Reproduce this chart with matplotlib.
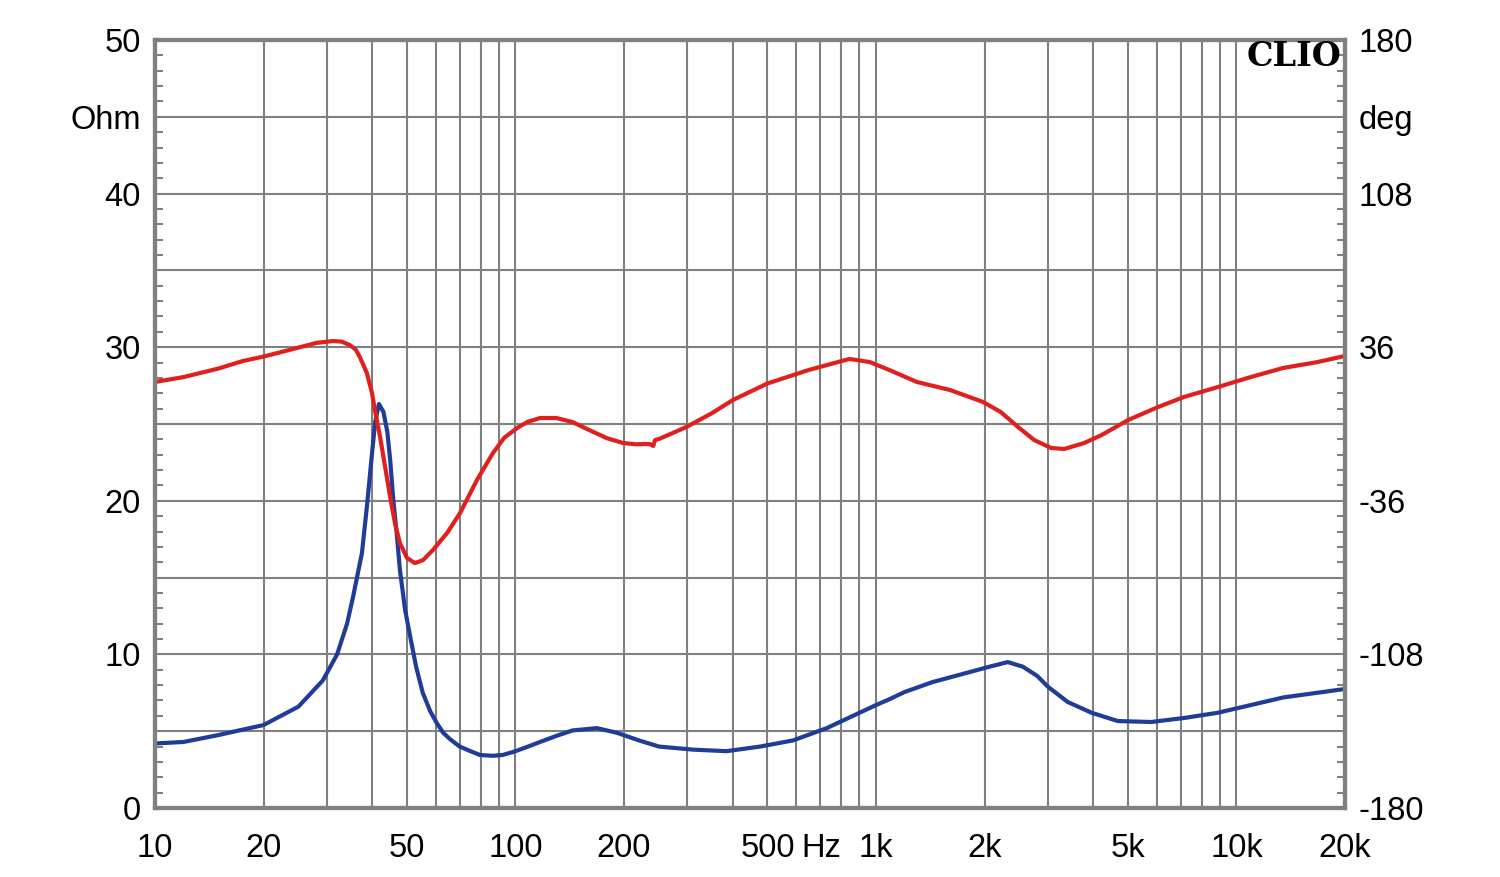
import matplotlib.pyplot as plt
import numpy as np
from matplotlib.ticker import FixedLocator, FixedFormatter, MultipleLocator

# impedance magnitude (left axis, Ohm)
imp_hz = [10, 12, 15, 17.5, 20, 25, 29.2, 32, 34.1, 35.4, 37.5, 38.7, 40, 40.8,
          41.8, 43.0, 44.1, 44.9, 45.8, 46.9, 47.8, 49.4, 51, 53, 55.3, 58,
          60.6, 63, 65.7, 70, 75, 79.7, 86.6, 92, 98.6, 107, 117, 130, 144, 168,
          191, 220, 250, 311, 385, 477, 589, 730, 900, 1000, 1094, 1200, 1436,
          1787, 2065, 2320, 2555, 2800, 2997, 3404, 3964, 4687, 5800, 7158,
          8870, 10950, 13500, 16740, 20000]
imp_ohm = [4.2, 4.3, 4.75, 5.1, 5.4, 6.6, 8.3, 10.0, 12.0, 13.7, 16.6, 19.6, 23.1, 25.1,
           26.3, 25.8, 24.5, 22.7, 20.1, 17.7, 15.5, 12.9, 11.2, 9.2, 7.5, 6.3,
           5.5, 4.9, 4.5, 4.0, 3.7, 3.45, 3.4, 3.45, 3.65, 3.95, 4.3, 4.7, 5.05, 5.2,
           4.9, 4.4, 4.0, 3.8, 3.7, 4.0, 4.4, 5.2, 6.2, 6.7, 7.1, 7.55, 8.2,
           8.8, 9.2, 9.5, 9.2, 8.6, 7.9, 6.9, 6.2, 5.66, 5.6, 5.86,
           6.2, 6.7, 7.2, 7.5, 7.75]

# impedance phase (right axis, deg)
ph_hz = [10, 12, 15, 17.5, 20, 25.25, 28, 31.2, 33, 34.7, 36, 37.0, 38.7, 40.0,
         40.8, 42.1, 43.5, 44.9, 46.3, 47.8, 50.0, 52.6, 55.4, 59.0, 64.6, 70.2,
         78.2, 86.6, 93, 101, 108, 117, 130, 144, 160, 179, 198.6, 215, 231, 236,
         241, 244, 252, 298, 350, 401, 500, 650, 844, 963, 1100, 1298, 1607, 1983,
         2219, 2478, 2746, 3060, 3328, 3784, 4222, 5010, 6070, 7158, 8870, 10950,
         13500, 16740, 20000]
ph_deg = [19.7, 22, 26, 29.5, 31.6, 36, 38.0, 38.9, 38.6, 37.0, 35.0, 31.4, 23.9, 14.5,
          6.0, -6.0, -20.2, -34.2, -46.4, -55.8, -62.8, -65.2, -63.8, -59.1, -51.1, -41.7,
          -26.2, -13.6, -6.5, -1.9, 1.0, 2.8, 2.8, 0.9, -2.8, -6.6, -8.9, -9.5, -9.4, -9.4,
          -10.3, -7.5, -6.8, -1.4, 5.0, 11.25, 19, 25.3, 30.5, 29, 25.0, 19.7, 15.9, 10.3,
          5.6, -1.4, -7.5, -11.25, -11.7, -8.9, -5.2, 1.9, 8, 12.7, 17.3, 22,
          26.3, 29, 31.9]

grid_hz = [m * 10 ** d for d in range(1, 4) for m in range(1, 10)] + [10000, 20000]
label_hz = [10, 20, 50, 100, 200, 500, 707, 1000, 2000, 5000, 10000, 20000]
label_txt = ['10', '20', '50', '100', '200', '500', 'Hz', '1k', '2k', '5k', '10k', '20k']

ohm_ticks = list(range(0, 51, 5))
ohm_txt = ['0', '', '10', '', '20', '', '30', '', '40', 'Ohm', '50']
deg_ticks = list(range(-180, 181, 36))
deg_txt = ['-180', '', '-108', '', '-36', '', '36', '', '108', 'deg', '180']

plt.rcParams['font.family'] = ['Liberation Sans', 'DejaVu Sans']
gray = '#808080'
fs = 23.5

fig = plt.figure(figsize=(15, 8.77), dpi=100)
ax = fig.add_axes([155 / 1500, 69 / 877, 1190 / 1500, 768 / 877])
ax.set_xscale('log')
ax.set_xlim(10, 20000)
ax.set_ylim(0, 50)

ax.xaxis.remove_overlapping_locs = False
ax.xaxis.set_major_locator(FixedLocator(label_hz))
ax.xaxis.set_major_formatter(FixedFormatter(label_txt))
ax.xaxis.set_minor_locator(FixedLocator(grid_hz))
ax.xaxis.set_minor_formatter(FixedFormatter([''] * len(grid_hz)))
ax.tick_params(axis='x', which='both', length=0, labelsize=fs, pad=18)
ax.grid(True, axis='x', which='minor', color=gray, lw=1.5)

ax.yaxis.set_major_locator(FixedLocator(ohm_ticks))
ax.yaxis.set_major_formatter(FixedFormatter(ohm_txt))
ax.yaxis.set_minor_locator(MultipleLocator(1))
ax.tick_params(axis='y', which='major', length=0, labelsize=fs, pad=10)
ax.tick_params(axis='y', which='minor', direction='in', length=6, width=1.5, color=gray)
ax.grid(True, axis='y', which='major', color=gray, lw=1.5)

ax.plot(imp_hz, imp_ohm, color='#1f3c98', lw=3)

ax2 = ax.twinx()
ax2.set_ylim(-180, 180)
ax2.yaxis.set_major_locator(FixedLocator(deg_ticks))
ax2.yaxis.set_major_formatter(FixedFormatter(deg_txt))
ax2.yaxis.set_minor_locator(MultipleLocator(7.2))
ax2.tick_params(axis='y', which='major', length=0, labelsize=fs, pad=10)
ax2.tick_params(axis='y', which='minor', direction='in', length=6, width=1.5, color=gray)
ax2.plot(ph_hz, ph_deg, color='#e0201e', lw=3)

for a in (ax, ax2):
    for s in a.spines.values():
        s.set_color(gray)
        s.set_linewidth(3)

ax2.text(0.997, 0.978, 'CLIO', transform=ax.transAxes, ha='right', va='center',
         fontfamily='DejaVu Serif', fontweight='heavy', fontsize=24)

fig.savefig('out.png', dpi=100)
